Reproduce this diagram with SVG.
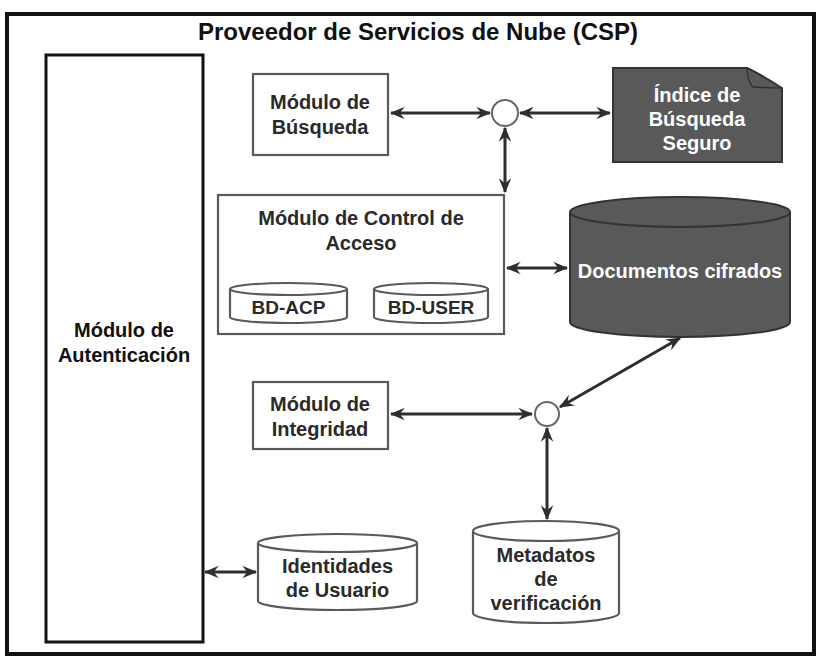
<svg xmlns="http://www.w3.org/2000/svg" width="820" height="659" viewBox="0 0 820 659">
  <style>
    text { font-family: "Liberation Sans", Arial, sans-serif; font-weight: bold; text-anchor: middle; }
    .lbl { font-size: 20px; fill: #2a2a2a; }
    .inv { font-size: 20px; fill: #ffffff; }
    .db { font-size: 19px; fill: #2a2a2a; }
    .box { fill: #ffffff; stroke: #5a5a5a; stroke-width: 2.2; }
    .dark { fill: #595959; stroke: #333333; stroke-width: 2; }
    .hub { fill: #ffffff; stroke: #666666; stroke-width: 2; }
    .conn { stroke: #2e2e2e; stroke-width: 3; fill: none; marker-start: url(#tip); marker-end: url(#tip); }
  </style>
  <defs>
    <marker id="tip" viewBox="0 0 12 10" refX="11" refY="5" markerWidth="5" markerHeight="5" markerUnits="strokeWidth" orient="auto-start-reverse">
      <path d="M0,0 L12,5 L0,10 L4,5 z" fill="#2e2e2e"/>
    </marker>
  </defs>

  <rect x="0" y="0" width="820" height="659" fill="#ffffff"/>

  <!-- outer frame: cloud service provider -->
  <g id="csp">
    <rect x="7" y="14" width="807" height="640" fill="none" stroke="#111111" stroke-width="4"/>
    <text x="418" y="40" style="font-size:24px; fill:#111111;">Proveedor de Servicios de Nube (CSP)</text>
  </g>

  <!-- authentication module -->
  <g id="autenticacion">
    <rect x="46" y="55" width="157" height="587" fill="#ffffff" stroke="#111111" stroke-width="3"/>
    <text class="lbl" x="124" y="337" style="fill:#111111;">Módulo de</text>
    <text class="lbl" x="124" y="362" style="fill:#111111;">Autenticación</text>
  </g>

  <!-- search module -->
  <g id="busqueda">
    <rect class="box" x="253" y="74" width="135" height="81"/>
    <text class="lbl" x="320" y="109">Módulo de</text>
    <text class="lbl" x="320" y="134">Búsqueda</text>
  </g>

  <!-- secure search index (document shape) -->
  <g id="indice">
    <path class="dark" d="M613,68 L747,68 Q760,74 782,88 L782,162 L613,162 z"/>
    <path d="M747,68 Q748,83 753,87 Q766,88 782,88" fill="none" stroke="#333333" stroke-width="1.5"/>
    <text class="inv" x="697" y="102">Índice de</text>
    <text class="inv" x="697" y="126">Búsqueda</text>
    <text class="inv" x="697" y="150">Seguro</text>
  </g>

  <!-- junction hubs -->
  <g id="hub-busqueda">
    <circle class="hub" cx="505" cy="113" r="13"/>
  </g>
  <g id="hub-integridad">
    <circle class="hub" cx="547" cy="414" r="12"/>
  </g>

  <!-- access control module with its databases -->
  <g id="control-acceso">
    <rect class="box" x="218" y="195" width="286" height="139"/>
    <text class="lbl" x="361" y="225">Módulo de Control de</text>
    <text class="lbl" x="361" y="250">Acceso</text>
  </g>
  <g id="bd-acp">
    <path class="box" d="M230,289 L230,317 A58.5,6 0 0 0 347,317 L347,289"/>
    <ellipse class="box" cx="288.5" cy="289" rx="58.5" ry="6"/>
    <text class="db" x="288.5" y="314">BD-ACP</text>
  </g>
  <g id="bd-user">
    <path class="box" d="M374,289 L374,317 A57,6 0 0 0 488,317 L488,289"/>
    <ellipse class="box" cx="431" cy="289" rx="57" ry="6"/>
    <text class="db" x="431" y="314">BD-USER</text>
  </g>

  <!-- encrypted documents store -->
  <g id="documentos">
    <path class="dark" d="M570,212 L570,322 A110,15 0 0 0 790,322 L790,212"/>
    <ellipse class="dark" cx="680" cy="212" rx="110" ry="15"/>
    <text class="inv" x="680" y="278">Documentos cifrados</text>
  </g>

  <!-- integrity module -->
  <g id="integridad">
    <rect class="box" x="253" y="382" width="135" height="67"/>
    <text class="lbl" x="320" y="411">Módulo de</text>
    <text class="lbl" x="320" y="436">Integridad</text>
  </g>

  <!-- user identities store -->
  <g id="identidades">
    <path class="box" d="M258,543 L258,601 A79.5,9 0 0 0 417,601 L417,543"/>
    <ellipse class="box" cx="337.5" cy="543" rx="79.5" ry="9"/>
    <text class="lbl" x="337.5" y="573">Identidades</text>
    <text class="lbl" x="337.5" y="597">de Usuario</text>
  </g>

  <!-- verification metadata store -->
  <g id="metadatos">
    <path class="box" d="M473,531 L473,613 A73,10 0 0 0 619,613 L619,531"/>
    <ellipse class="box" cx="546" cy="531" rx="73" ry="10"/>
    <text class="lbl" x="546" y="562">Metadatos</text>
    <text class="lbl" x="546" y="586">de</text>
    <text class="lbl" x="546" y="610">verificación</text>
  </g>

  <!-- connectors -->
  <g id="connectors">
    <line class="conn" x1="391" y1="113" x2="490" y2="113"/>
    <line class="conn" x1="520" y1="113" x2="610" y2="113"/>
    <line class="conn" x1="505" y1="128" x2="505" y2="192"/>
    <line class="conn" x1="507" y1="268" x2="567" y2="268"/>
    <line class="conn" x1="391" y1="414" x2="532" y2="414"/>
    <line class="conn" x1="560" y1="407" x2="680" y2="338"/>
    <line class="conn" x1="547" y1="428" x2="547" y2="519"/>
    <line class="conn" x1="205" y1="572" x2="256" y2="572"/>
  </g>
</svg>
